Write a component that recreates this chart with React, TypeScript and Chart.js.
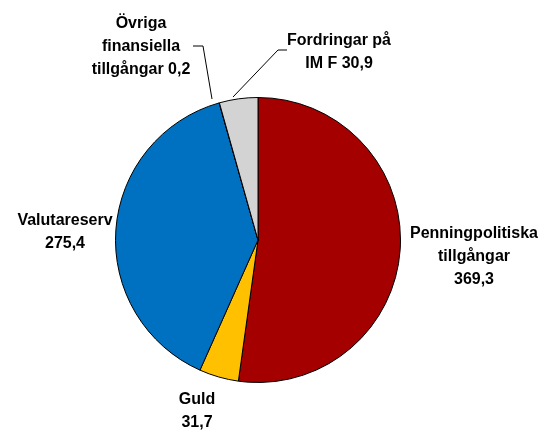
import React, { useEffect, useRef } from "react";
import { Chart, registerables } from "chart.js";

Chart.register(...registerables);

const categories = [
  "Penningpolitiska tillgångar",
  "Guld",
  "Valutareserv",
  "Övriga finansiella tillgångar",
  "Fordringar på IMF",
];
const values = [369.3, 31.7, 275.4, 0.2, 30.9];
const colors = ["#A50000", "#FFC000", "#0070C0", "#FFFFFF", "#D3D3D3"];
const labelLines = [
  ["Penningpolitiska", "tillgångar", "369,3"],
  ["Guld", "31,7"],
  ["Valutareserv", "275,4"],
  ["Övriga", "finansiella", "tillgångar 0,2"],
  ["Fordringar på", "IM F 30,9"],
];

// label layout: centre x, first baseline y, relative to pie centre
const labelPos = [
  { dx: 216, dy: -2 },
  { dx: -61, dy: 164 },
  { dx: -193, dy: -15 },
  { dx: -117, dy: -212 },
  { dx: 81, dy: -195 },
];
// leader lines (relative to pie centre)
const leaders: Record<number, number[][]> = {
  3: [[-65, -194], [-55, -194], [-46, -141]],
  4: [[29, -190], [20, -190], [-25, -143]],
};

const labelPlugin = {
  id: "pieLabels",
  afterDraw(chart: any) {
    const ctx = chart.ctx;
    const meta = chart.getDatasetMeta(0);
    const arc = meta.data[0];
    if (!arc) return;
    const cx = arc.x;
    const cy = arc.y;
    ctx.save();
    ctx.fillStyle = "#000";
    ctx.font = "bold 16px 'Liberation Sans', Arial, sans-serif";
    ctx.textAlign = "center";
    ctx.textBaseline = "alphabetic";
    labelLines.forEach((lines, i) => {
      const p = labelPos[i];
      lines.forEach((t, j) => {
        ctx.fillText(t, cx + p.dx, cy + p.dy + j * 23);
      });
    });
    ctx.strokeStyle = "#000";
    ctx.lineWidth = 1;
    Object.values(leaders).forEach((pts) => {
      ctx.beginPath();
      pts.forEach((pt, k) => {
        if (k === 0) ctx.moveTo(cx + pt[0], cy + pt[1]);
        else ctx.lineTo(cx + pt[0], cy + pt[1]);
      });
      ctx.stroke();
    });
    ctx.restore();
  },
};

export default function App() {
  const ref = useRef<HTMLCanvasElement>(null);
  useEffect(() => {
    if (!ref.current) return;
    const chart = new Chart(ref.current, {
      type: "pie",
      data: {
        labels: categories,
        datasets: [
          {
            data: values,
            backgroundColor: colors,
            borderColor: "#000000",
            borderWidth: 1,
          },
        ],
      },
      options: {
        animation: false,
        responsive: false,
        layout: { padding: { left: 115, right: 138, top: 97, bottom: 47 } },
        plugins: {
          legend: { display: false },
          tooltip: { enabled: false },
        },
      },
      plugins: [labelPlugin],
    });
    return () => chart.destroy();
  }, []);
  return (
    <div style={{ position: "absolute", left: 0, top: 0, width: 539, height: 430, background: "#fff" }}>
      <canvas ref={ref} width={539} height={430} />
    </div>
  );
}
